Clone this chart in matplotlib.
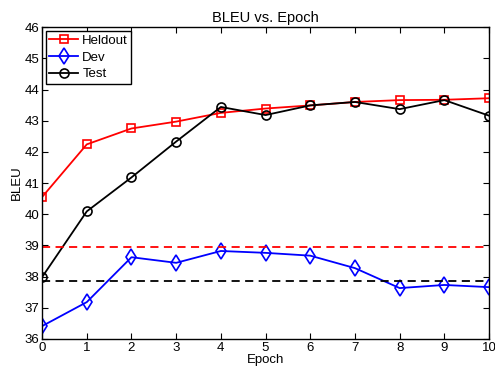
import matplotlib.pyplot as plt
import numpy as np

plt.rcParams['font.family'] = ['Liberation Sans', 'DejaVu Sans']

epochs = np.arange(0, 11)
heldout = [40.55, 42.24, 42.75, 42.97, 43.25, 43.39, 43.49, 43.60, 43.66, 43.67, 43.72]
dev = [36.41, 37.18, 38.62, 38.44, 38.82, 38.76, 38.67, 38.27, 37.63, 37.73, 37.66]
test = [37.98, 40.09, 41.18, 42.33, 43.44, 43.18, 43.49, 43.60, 43.37, 43.66, 43.16]
heldout_base = 38.96
test_base = 37.87

fig = plt.figure(figsize=(4.95, 3.72), dpi=100)
ax = fig.add_axes([0.085, 0.089, 0.903, 0.838])

ax.plot(epochs, heldout, color='red', marker='s', mfc='none', ms=6, mew=1.2, lw=1.3, label='Heldout')
ax.plot(epochs, dev, color='blue', marker='d', mfc='none', ms=8, mew=1.2, lw=1.3, label='Dev')
ax.plot(epochs, test, color='black', marker='o', mfc='none', ms=6.5, mew=1.2, lw=1.3, label='Test')
ax.axhline(heldout_base, color='red', ls='--', lw=1.3, dashes=(4.5, 3))
ax.axhline(test_base, color='black', ls='--', lw=1.3, dashes=(4.5, 3))

ax.set_xlim(0, 10)
ax.set_ylim(36, 46)
ax.set_xticks(range(0, 11))
ax.set_yticks(range(36, 47))
for s in ax.spines.values():
    s.set_linewidth(1.0)
ax.tick_params(direction='in', top=True, right=True, labelsize=9.5, length=4, pad=2)
ax.set_xlabel('Epoch', fontsize=9.5, labelpad=0)
ax.set_ylabel('BLEU', fontsize=9.5, labelpad=1)
ax.set_title('BLEU vs. Epoch', fontsize=10.5, pad=4)

leg = ax.legend(loc='upper left', fontsize=9.5, fancybox=False, framealpha=1,
                edgecolor='black', borderpad=0.25, labelspacing=0.35,
                handlelength=2.2, handletextpad=0.3, borderaxespad=0.3)
leg.get_frame().set_linewidth(1.0)

fig.savefig('out.png', dpi=100)
